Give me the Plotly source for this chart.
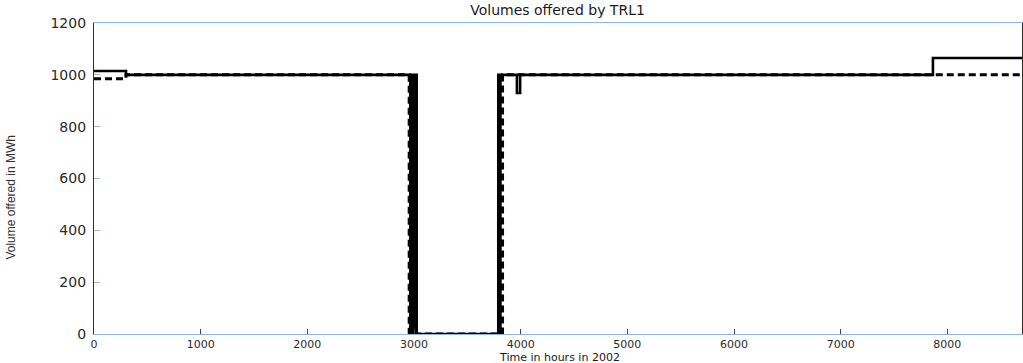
import plotly.graph_objects as go

# Offered volume (MWh) per hour of 2002, stored as step change points
solid_hours = [0, 300, 2965, 2980, 2995, 3010, 3025, 3790, 3800, 3810, 3965, 3995, 7865, 8700]
solid_mwh = [1015, 1000, 0, 1000, 0, 1000, 0, 1000, 0, 1000, 930, 1000, 1065, 1065]

dashed_hours = [0, 300, 2955, 3830, 8700]
dashed_mwh = [985, 1000, 0, 1000, 1000]

x_ticks = [0, 1000, 2000, 3000, 4000, 5000, 6000, 7000, 8000]
y_ticks = [0, 200, 400, 600, 800, 1000, 1200]

fig = go.Figure()
fig.add_trace(go.Scatter(
    x=dashed_hours, y=dashed_mwh, mode="lines", line_shape="hv",
    line=dict(color="black", width=3, dash="7px,4px"), showlegend=False,
))
fig.add_trace(go.Scatter(
    x=solid_hours, y=solid_mwh, mode="lines", line_shape="hv",
    line=dict(color="black", width=2.6), showlegend=False,
))

tick_font = dict(family="DejaVu Sans", size=11, color="#2a2a2a")
fig.update_layout(
    width=1023, height=363,
    margin=dict(l=94, r=1, t=23, b=29),
    paper_bgcolor="white", plot_bgcolor="white",
    title=dict(text="Volumes offered by TRL1", x=0.545, xanchor="center",
               y=0.985, yanchor="top",
               font=dict(family="DejaVu Sans", size=14, color="#1a1a1a")),
    xaxis=dict(range=[0, 8700], tickvals=x_ticks, ticktext=[str(v) for v in x_ticks],
               showgrid=False, zeroline=False, showline=True, linecolor="#8fb6d2",
               linewidth=1.2, mirror=True, ticks="inside", ticklen=5,
               tickcolor="#444", tickfont=tick_font, ticklabelstandoff=0),
    yaxis=dict(range=[0, 1200], tickvals=y_ticks, ticktext=[str(v) for v in y_ticks],
               showgrid=False, zeroline=False, showline=True, linecolor="#3a2a28",
               linewidth=1.2, mirror=True, ticks="inside", ticklen=6,
               tickcolor="#9bbccc", tickfont=dict(family="DejaVu Sans", size=14, color="#2a2a2a"),
               ticklabelstandoff=4),
    annotations=[
        dict(text="Time in hours in 2002", xref="paper", yref="paper",
             x=0.502, y=-0.05, xanchor="center", yanchor="top", showarrow=False,
             borderpad=0,
             font=dict(family="DejaVu Sans", size=11, color="#1a1a1a")),
        dict(text="Volume offered in MWh", xref="paper", yref="paper",
             x=-0.089, y=0.44, xanchor="center", yanchor="middle", showarrow=False,
             textangle=-90,
             font=dict(family="Liberation Sans Narrow, Liberation Sans", size=12, color="#333")),
    ],
)

fig.write_html("out.html")
